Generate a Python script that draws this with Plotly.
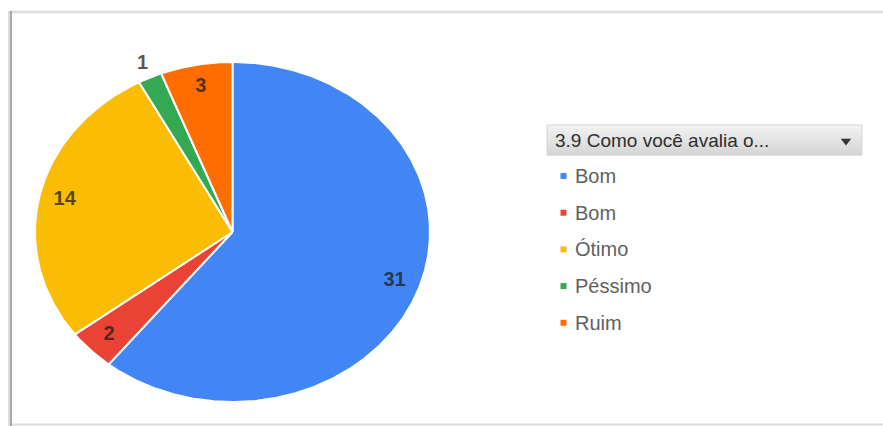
import math
import plotly.graph_objects as go

# Survey answers for question 3.9
categories = ["Bom", "Bom", "Ótimo", "Péssimo", "Ruim"]
counts = [31, 2, 14, 1, 3]
colors = ["#4285F4", "#EA4335", "#FBBC04", "#34A853", "#FF6D01"]
legend_title = "3.9 Como você avalia o..."

W, H = 883, 426
FONT = "Liberation Sans, Arial, sans-serif"

# pie geometry in pixel space (slightly stretched horizontally)
cx, cy = 232.5, 232.0
rx, ry = 197.5, 170.0

fig = go.Figure()

total = sum(counts)
start = 0.0
label_x, label_y, label_txt = [], [], []
for cat, val, col in zip(categories, counts, colors):
    a0 = start / total * 2 * math.pi
    a1 = (start + val) / total * 2 * math.pi
    n = max(4, int(val * 12))
    xs, ys = [cx], [cy]
    for k in range(n + 1):
        a = a0 + (a1 - a0) * k / n
        xs.append(cx + rx * math.sin(a))
        ys.append(cy - ry * math.cos(a))
    xs.append(cx)
    ys.append(cy)
    fig.add_trace(go.Scatter(
        x=xs, y=ys, mode="lines", fill="toself", fillcolor=col,
        line=dict(color="white", width=2), hoverinfo="skip", showlegend=False,
    ))
    mid = (a0 + a1) / 2
    frac = 1.09 if val / total < 0.03 else 0.87
    label_x.append(cx + rx * frac * math.sin(mid))
    label_y.append(cy - ry * frac * math.cos(mid))
    label_txt.append(f"<b>{val}</b>")
    start += val

# value labels
fig.add_trace(go.Scatter(
    x=label_x, y=label_y, mode="text", text=label_txt,
    textfont=dict(family=FONT, size=20, color="rgba(30,30,30,0.75)"),
    hoverinfo="skip", showlegend=False,
))

# legend header (stepped gradient bar)
hx0, hx1, hy0, hy1 = 547, 862, 125, 155
steps = 10
for i in range(steps):
    g = int(242 - (242 - 214) * i / (steps - 1))
    fig.add_shape(type="rect", xref="x", yref="y",
                  x0=hx0, x1=hx1,
                  y0=hy0 + (hy1 - hy0) * i / steps,
                  y1=hy0 + (hy1 - hy0) * (i + 1) / steps + 0.5,
                  line=dict(width=0), fillcolor=f"rgb({g},{g},{g})", layer="below")
fig.add_shape(type="rect", xref="x", yref="y", x0=hx0, x1=hx1, y0=hy0, y1=hy1,
              line=dict(color="#d4d4d4", width=1), fillcolor="rgba(0,0,0,0)")
fig.add_annotation(x=hx0 + 6, y=(hy0 + hy1) / 2, xref="x", yref="y",
                   text=legend_title, showarrow=False, xanchor="left", yanchor="middle",
                   font=dict(family=FONT, size=19, color="#2e2e2e"))
fig.add_trace(go.Scatter(
    x=[846], y=[141], mode="markers",
    marker=dict(symbol="triangle-down", size=9, color="#333333"),
    hoverinfo="skip", showlegend=False,
))

# legend entries
ly0, dly = 176.0, 36.7
leg_y = [ly0 + i * dly for i in range(len(categories))]
fig.add_trace(go.Scatter(
    x=[563.5] * len(categories), y=leg_y, mode="markers",
    marker=dict(symbol="square", size=6, color=colors, line=dict(width=0)),
    hoverinfo="skip", showlegend=False,
))
for cat, yv in zip(categories, leg_y):
    fig.add_annotation(x=573, y=yv, xref="x", yref="y", text=cat, showarrow=False,
                       xanchor="left", yanchor="middle",
                       font=dict(family=FONT, size=20, color="#5f5f5f"))

# card frame
fig.add_shape(type="line", xref="x", yref="y", x0=10, x1=W, y0=12, y1=12,
              line=dict(color="#e0e0e0", width=3))
fig.add_shape(type="line", xref="x", yref="y", x0=10, x1=W, y0=424.5, y1=424.5,
              line=dict(color="#dcdcdc", width=2))
fig.add_shape(type="line", xref="x", yref="y", x0=9, x1=9, y0=11, y1=426,
              line=dict(color="#dddddd", width=2))
fig.add_shape(type="line", xref="x", yref="y", x0=11, x1=11, y0=11, y1=426,
              line=dict(color="#a8a8a8", width=2))

fig.update_layout(
    width=W, height=H, autosize=False,
    margin=dict(l=0, r=0, t=0, b=0),
    paper_bgcolor="white", plot_bgcolor="white",
    xaxis=dict(range=[0, W], visible=False, fixedrange=True),
    yaxis=dict(range=[H, 0], visible=False, fixedrange=True),
    showlegend=False,
)

fig.write_html("out.html", config={"displayModeBar": False})
